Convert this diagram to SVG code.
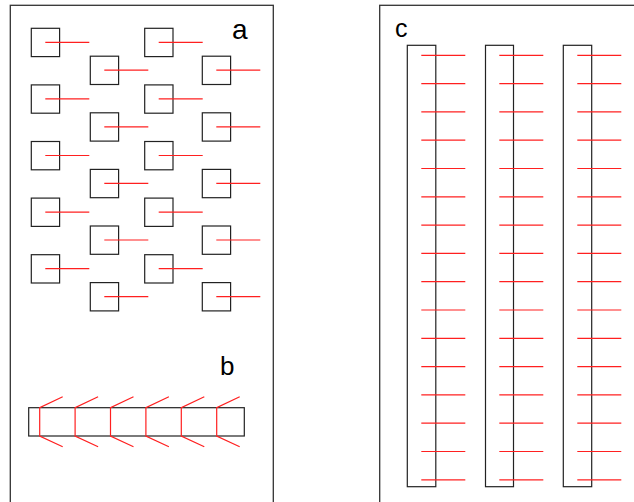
<svg xmlns="http://www.w3.org/2000/svg" xmlns:xlink="http://www.w3.org/1999/xlink" width="634" height="502" viewBox="0 0 634 502">
<style>
.frame{fill:none;stroke:#333;stroke-width:1.3}
.box{fill:none;stroke:#222;stroke-width:1.2}
.red{stroke:#ff2020;stroke-width:1.2;fill:none}
.lbl{font-family:"Liberation Sans",Arial,sans-serif;fill:#000}
</style>
<defs>
<g id="sq"><rect class="box" x="0" y="0" width="28.3" height="28.3"/></g>
<line id="tick" class="red" x1="14" y1="14" x2="58" y2="14"/>
<g id="bmark"><polyline class="red" points="23,-11 0,0 0,28.3 23,39"/></g>
<line id="ctick" class="red" x1="14" y1="0" x2="58" y2="0"/>
</defs>
<rect width="634" height="502" fill="#fff"/>
<g id="frames">
<rect class="frame" x="10.3" y="5.3" width="263" height="520"/>
<rect class="frame" x="379.7" y="5.3" width="300" height="520"/>
</g>
<g id="labels">
<text class="lbl" x="232" y="38.5" font-size="28">a</text>
<text class="lbl" x="220" y="375" font-size="26">b</text>
<text class="lbl" x="395" y="36.7" font-size="25">c</text>
</g>
<g id="panel-a">
<g id="a-col1">
<use xlink:href="#sq" x="31.3" y="28.3"/><use xlink:href="#sq" x="31.3" y="84.9"/><use xlink:href="#sq" x="31.3" y="141.5"/><use xlink:href="#sq" x="31.3" y="198.1"/><use xlink:href="#sq" x="31.3" y="254.7"/>
</g>
<g id="a-col2">
<use xlink:href="#sq" x="90.3" y="56.2"/><use xlink:href="#sq" x="90.3" y="112.8"/><use xlink:href="#sq" x="90.3" y="169.4"/><use xlink:href="#sq" x="90.3" y="226"/><use xlink:href="#sq" x="90.3" y="282.6"/>
</g>
<g id="a-col3">
<use xlink:href="#sq" x="144.7" y="28.3"/><use xlink:href="#sq" x="144.7" y="84.9"/><use xlink:href="#sq" x="144.7" y="141.5"/><use xlink:href="#sq" x="144.7" y="198.1"/><use xlink:href="#sq" x="144.7" y="254.7"/>
</g>
<g id="a-col4">
<use xlink:href="#sq" x="202.3" y="56.2"/><use xlink:href="#sq" x="202.3" y="112.8"/><use xlink:href="#sq" x="202.3" y="169.4"/><use xlink:href="#sq" x="202.3" y="226"/><use xlink:href="#sq" x="202.3" y="282.6"/>
</g>
</g>
<g id="panel-b">
<rect class="box" x="28.7" y="407.7" width="215.6" height="28.3"/>
</g>
<g id="panel-c">
<rect class="box" x="407.3" y="45.3" width="28.5" height="441.4"/>
<rect class="box" x="485.5" y="45.3" width="28" height="441.4"/>
<rect class="box" x="563.3" y="45.3" width="28.4" height="441.4"/>
</g>
<g id="connectors">
<g id="a-ticks">
<use xlink:href="#tick" x="31.3" y="28.3"/><use xlink:href="#tick" x="31.3" y="84.9"/><use xlink:href="#tick" x="31.3" y="141.5"/><use xlink:href="#tick" x="31.3" y="198.1"/><use xlink:href="#tick" x="31.3" y="254.7"/>
<use xlink:href="#tick" x="90.3" y="56.2"/><use xlink:href="#tick" x="90.3" y="112.8"/><use xlink:href="#tick" x="90.3" y="169.4"/><use xlink:href="#tick" x="90.3" y="226"/><use xlink:href="#tick" x="90.3" y="282.6"/>
<use xlink:href="#tick" x="144.7" y="28.3"/><use xlink:href="#tick" x="144.7" y="84.9"/><use xlink:href="#tick" x="144.7" y="141.5"/><use xlink:href="#tick" x="144.7" y="198.1"/><use xlink:href="#tick" x="144.7" y="254.7"/>
<use xlink:href="#tick" x="202.3" y="56.2"/><use xlink:href="#tick" x="202.3" y="112.8"/><use xlink:href="#tick" x="202.3" y="169.4"/><use xlink:href="#tick" x="202.3" y="226"/><use xlink:href="#tick" x="202.3" y="282.6"/>
</g>
<g id="b-marks">
<use xlink:href="#bmark" x="39.7" y="407.7"/><use xlink:href="#bmark" x="75.1" y="407.7"/><use xlink:href="#bmark" x="110.5" y="407.7"/><use xlink:href="#bmark" x="145.9" y="407.7"/><use xlink:href="#bmark" x="181.3" y="407.7"/><use xlink:href="#bmark" x="216.7" y="407.7"/>
</g>
<g id="c-ticks">
<g id="c-col1">
<use xlink:href="#ctick" x="407.3" y="55.3"/><use xlink:href="#ctick" x="407.3" y="83.6"/><use xlink:href="#ctick" x="407.3" y="111.9"/><use xlink:href="#ctick" x="407.3" y="140.2"/><use xlink:href="#ctick" x="407.3" y="168.5"/><use xlink:href="#ctick" x="407.3" y="196.8"/><use xlink:href="#ctick" x="407.3" y="225.1"/><use xlink:href="#ctick" x="407.3" y="253.4"/><use xlink:href="#ctick" x="407.3" y="281.7"/><use xlink:href="#ctick" x="407.3" y="310"/><use xlink:href="#ctick" x="407.3" y="338.3"/><use xlink:href="#ctick" x="407.3" y="366.6"/><use xlink:href="#ctick" x="407.3" y="394.9"/><use xlink:href="#ctick" x="407.3" y="423.2"/><use xlink:href="#ctick" x="407.3" y="451.5"/><use xlink:href="#ctick" x="407.3" y="479.8"/>
</g>
<g id="c-col2">
<use xlink:href="#ctick" x="485.3" y="55.3"/><use xlink:href="#ctick" x="485.3" y="83.6"/><use xlink:href="#ctick" x="485.3" y="111.9"/><use xlink:href="#ctick" x="485.3" y="140.2"/><use xlink:href="#ctick" x="485.3" y="168.5"/><use xlink:href="#ctick" x="485.3" y="196.8"/><use xlink:href="#ctick" x="485.3" y="225.1"/><use xlink:href="#ctick" x="485.3" y="253.4"/><use xlink:href="#ctick" x="485.3" y="281.7"/><use xlink:href="#ctick" x="485.3" y="310"/><use xlink:href="#ctick" x="485.3" y="338.3"/><use xlink:href="#ctick" x="485.3" y="366.6"/><use xlink:href="#ctick" x="485.3" y="394.9"/><use xlink:href="#ctick" x="485.3" y="423.2"/><use xlink:href="#ctick" x="485.3" y="451.5"/><use xlink:href="#ctick" x="485.3" y="479.8"/>
</g>
<g id="c-col3">
<use xlink:href="#ctick" x="563.3" y="55.3"/><use xlink:href="#ctick" x="563.3" y="83.6"/><use xlink:href="#ctick" x="563.3" y="111.9"/><use xlink:href="#ctick" x="563.3" y="140.2"/><use xlink:href="#ctick" x="563.3" y="168.5"/><use xlink:href="#ctick" x="563.3" y="196.8"/><use xlink:href="#ctick" x="563.3" y="225.1"/><use xlink:href="#ctick" x="563.3" y="253.4"/><use xlink:href="#ctick" x="563.3" y="281.7"/><use xlink:href="#ctick" x="563.3" y="310"/><use xlink:href="#ctick" x="563.3" y="338.3"/><use xlink:href="#ctick" x="563.3" y="366.6"/><use xlink:href="#ctick" x="563.3" y="394.9"/><use xlink:href="#ctick" x="563.3" y="423.2"/><use xlink:href="#ctick" x="563.3" y="451.5"/><use xlink:href="#ctick" x="563.3" y="479.8"/>
</g>
</g>
</g>
</svg>
